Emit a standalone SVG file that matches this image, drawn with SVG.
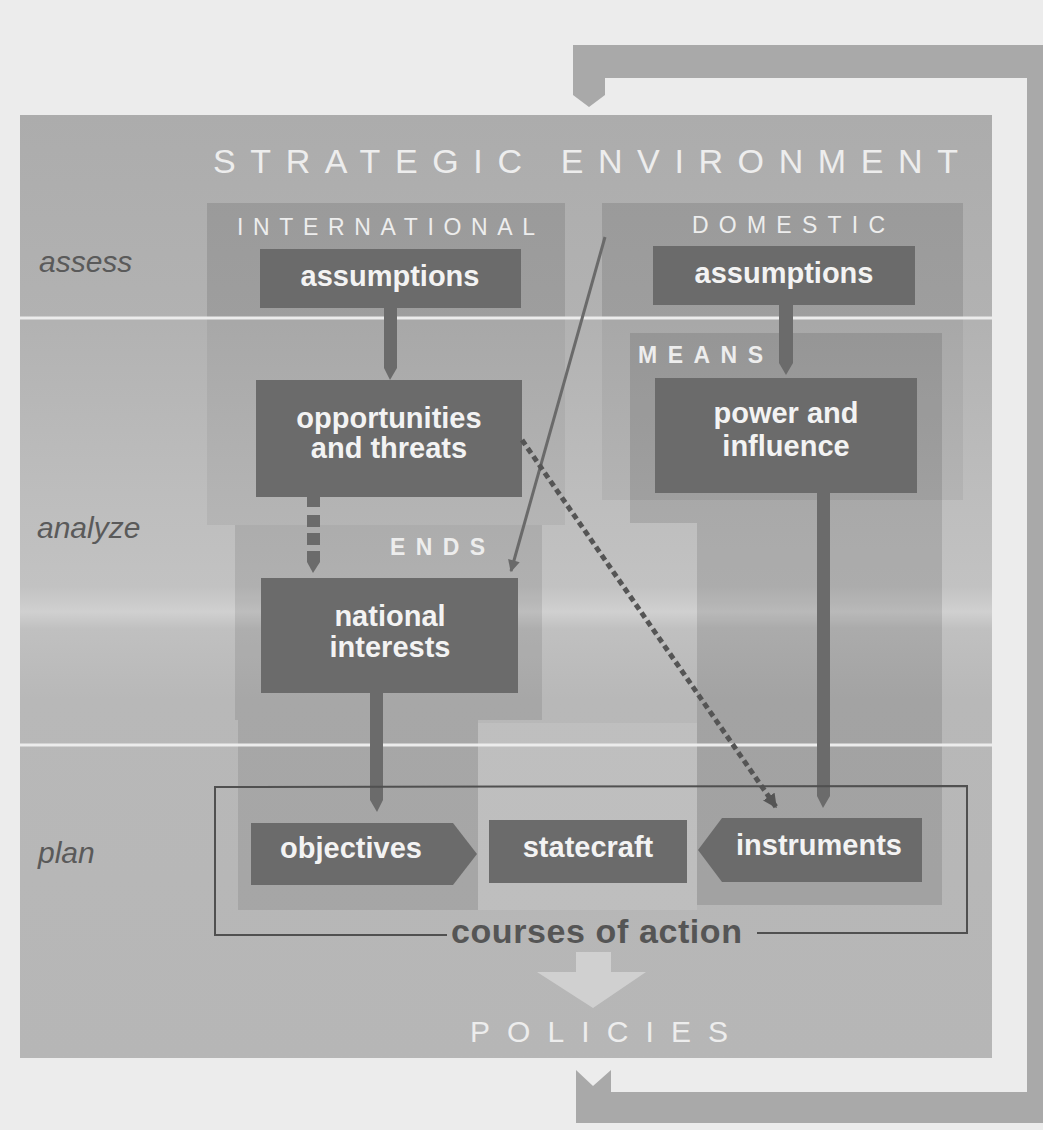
<svg xmlns="http://www.w3.org/2000/svg" width="1043" height="1130" viewBox="0 0 1043 1130">
<defs>
<linearGradient id="pg" x1="0" y1="115" x2="0" y2="1058" gradientUnits="userSpaceOnUse">
<stop offset="0" stop-color="#acacac"/>
<stop offset="0.22" stop-color="#b2b2b2"/>
<stop offset="0.4" stop-color="#bdbdbd"/>
<stop offset="0.5" stop-color="#c2c2c2"/>
<stop offset="0.527" stop-color="#d0d0d0"/>
<stop offset="0.545" stop-color="#c0c0c0"/>
<stop offset="0.62" stop-color="#b8b8b8"/>
<stop offset="1" stop-color="#b6b6b6"/>
</linearGradient>
<marker id="ah" viewBox="0 0 10 10" refX="9" refY="5" markerWidth="14" markerHeight="12" markerUnits="userSpaceOnUse" orient="auto">
<path d="M0,0 L10,5 L0,10 z" fill="#6a6a6a"/>
</marker>
<marker id="ahd" viewBox="0 0 10 10" refX="9" refY="5" markerWidth="14" markerHeight="14" markerUnits="userSpaceOnUse" orient="auto">
<path d="M0,0 L10,5 L0,10 z" fill="#555"/>
</marker>
<style>
.box{fill:#6b6b6b}
.bar{fill:#6b6b6b}
.lbl{font-family:"Liberation Sans",Arial,sans-serif;font-weight:bold;font-size:29px;fill:#f3f3f3;text-anchor:middle}
.cap{font-family:"Liberation Sans",Arial,sans-serif;fill:#ededed}
.side{font-family:"Liberation Sans",Arial,sans-serif;font-style:italic;font-size:30px;fill:#5a5a5a}
.dk1{fill:#000;fill-opacity:0.11}
.dk2{fill:#000;fill-opacity:0.05}
.dk3{fill:#000;fill-opacity:0.09}
.sep{stroke:#ececec;stroke-width:3}
</style>
</defs>
<rect x="0" y="0" width="1043" height="1130" fill="#ececec"/>
<g id="feedback">
<path d="M576,1070 L593,1086 L611,1070 L611,1092 L1027,1092 L1027,78 L605,78 L605,95 L589,107 L573,95 L573,45 L1043,45 L1043,1123 L576,1123 Z" fill="#a9a9a9"/>
</g>
<g id="panel">
<rect x="20" y="115" width="972" height="943" fill="url(#pg)"/>
<rect class="dk1" x="207" y="203" width="358" height="115"/>
<rect class="dk2" x="207" y="318" width="358" height="207"/>
<rect class="dk1" x="602" y="203" width="361" height="115"/>
<rect class="dk2" x="602" y="318" width="361" height="182"/>
<polygon class="dk1" points="630,333 942,333 942,905 697,905 697,523 630,523"/>
<rect class="dk3" x="235" y="525" width="307" height="195"/>
<rect class="dk3" x="238" y="720" width="240" height="190"/>
<rect x="478" y="723" width="219" height="187" fill="#fff" fill-opacity="0.1"/>
<line class="sep" x1="20" y1="318" x2="992" y2="318"/>
<line class="sep" x1="20" y1="745" x2="992" y2="745"/>
<text class="cap" x="213" y="173" font-size="34" textLength="745" lengthAdjust="spacing">STRATEGIC ENVIRONMENT</text>
<text class="cap" x="237" y="235" font-size="23" textLength="298" lengthAdjust="spacing">INTERNATIONAL</text>
<text class="cap" x="692" y="233" font-size="23" textLength="193" lengthAdjust="spacing">DOMESTIC</text>
<text class="cap" x="638" y="363" font-size="23" font-weight="bold" textLength="125" lengthAdjust="spacing">MEANS</text>
<text class="cap" x="390" y="555" font-size="23" font-weight="bold" textLength="95" lengthAdjust="spacing">ENDS</text>
<text class="cap" x="470" y="1042" font-size="30" textLength="258" lengthAdjust="spacing">POLICIES</text>
<text class="side" x="39" y="272">assess</text>
<text class="side" x="37" y="538">analyze</text>
<text class="side" x="38" y="863">plan</text>
</g>
<g id="node-int-assumptions">
<rect class="box" x="260" y="249" width="261" height="59"/>
<text class="lbl" x="390" y="286">assumptions</text>
</g>
<g id="node-opportunities">
<rect class="box" x="256" y="380" width="266" height="117"/>
<text class="lbl" x="389" y="428">opportunities</text>
<text class="lbl" x="389" y="458">and threats</text>
</g>
<g id="node-national-interests">
<rect class="box" x="261" y="578" width="257" height="115"/>
<text class="lbl" x="390" y="626">national</text>
<text class="lbl" x="390" y="657">interests</text>
</g>
<g id="node-dom-assumptions">
<rect class="box" x="653" y="246" width="262" height="59"/>
<text class="lbl" x="784" y="283">assumptions</text>
</g>
<g id="node-power">
<rect class="box" x="655" y="378" width="262" height="115"/>
<text class="lbl" x="786" y="423">power and</text>
<text class="lbl" x="786" y="456">influence</text>
</g>
<g id="node-objectives">
<polygon class="box" points="251,823 453,823 477,854 453,885 251,885"/>
<text class="lbl" x="351" y="858">objectives</text>
</g>
<g id="node-statecraft">
<rect class="box" x="489" y="820" width="198" height="63"/>
<text class="lbl" x="588" y="857">statecraft</text>
</g>
<g id="node-instruments">
<polygon class="box" points="698,850 722,818 922,818 922,882 722,882"/>
<text class="lbl" x="819" y="855">instruments</text>
</g>
<g id="connectors">
<polygon class="bar" points="384,308 397,308 397,368 390,380 384,368"/>
<polygon class="bar" points="779,305 793,305 793,363 786,375 779,363"/>
<rect class="bar" x="307" y="497" width="13" height="10"/>
<rect class="bar" x="307" y="515" width="13" height="12"/>
<rect class="bar" x="307" y="533" width="13" height="12"/>
<polygon class="bar" points="307,551 320,551 320,562 313,573 307,562"/>
<polygon class="bar" points="370,693 383,693 383,800 377,812 370,800"/>
<polygon class="bar" points="817,493 830,493 830,796 823,808 817,796"/>
<line x1="605" y1="237" x2="511" y2="571" stroke="#6a6a6a" stroke-width="3" marker-end="url(#ah)"/>
<line x1="522" y1="440" x2="776" y2="807" stroke="#555" stroke-width="5" stroke-dasharray="6 4" marker-end="url(#ahd)"/>
</g>
<g id="courses-of-action">
<path d="M447,935 L215,935 L215,787 L967,786 L967,933 L757,933" fill="none" stroke="#505050" stroke-width="2"/>
<text x="451" y="943" font-family="Liberation Sans, Arial, sans-serif" font-weight="bold" font-size="34" fill="#555" textLength="291" lengthAdjust="spacing">courses of action</text>
<polygon points="576,952 611,952 611,972 646,972 593,1008 537,972 576,972" fill="#d0d0d0"/>
</g>
</svg>
